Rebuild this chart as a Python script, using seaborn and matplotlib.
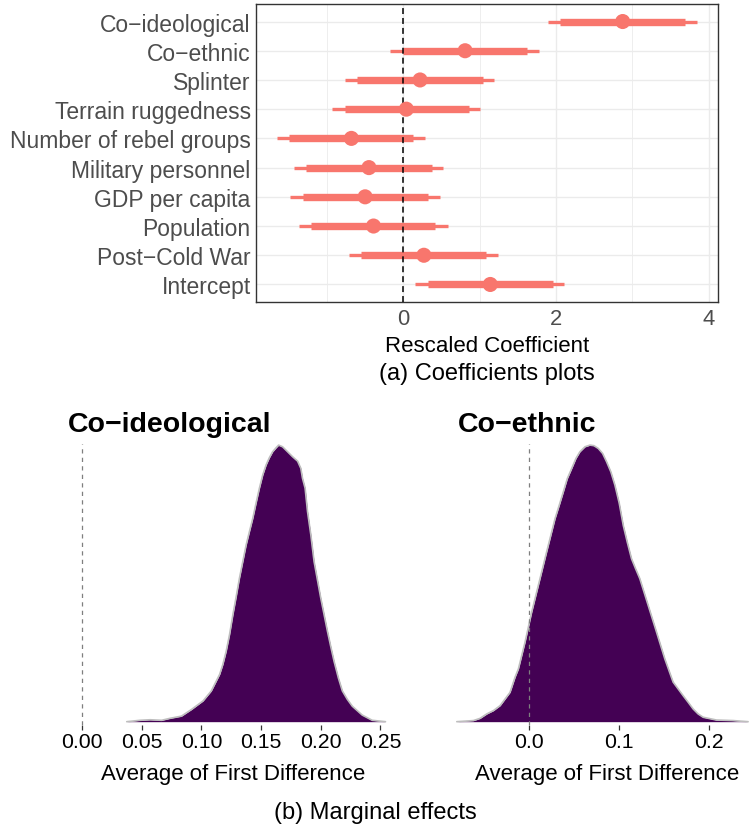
import numpy as np
import pandas as pd
import matplotlib
matplotlib.use("Agg")
import matplotlib.pyplot as plt
import seaborn as sns

# ---------------- data ----------------
categories = ["Co−ideological", "Co−ethnic", "Splinter", "Terrain ruggedness",
              "Number of rebel groups", "Military personnel", "GDP per capita",
              "Population", "Post−Cold War", "Intercept"]
estimate = [2.875, 0.81, 0.22, 0.04, -0.68, -0.45, -0.50, -0.39, 0.27, 1.14]
inner_lo = [2.05, -0.01, -0.61, -0.77, -1.50, -1.27, -1.32, -1.21, -0.55, 0.32]
inner_hi = [3.69, 1.62, 1.04, 0.86, 0.13, 0.37, 0.32, 0.42, 1.08, 1.96]
outer_lo = [1.89, -0.17, -0.76, -0.93, -1.66, -1.43, -1.48, -1.37, -0.71, 0.16]
outer_hi = [3.85, 1.78, 1.19, 1.01, 0.29, 0.52, 0.48, 0.58, 1.24, 2.11]
coef_ticks = [0, 2, 4]
coef_ticklabels = ["0", "2", "4"]

# density of first differences (relative height)
ideo_x = [0.0375, 0.0486, 0.057, 0.0667, 0.0736, 0.0833, 0.0917, 0.1014, 0.1083,
          0.1153, 0.118, 0.1208, 0.1236, 0.1264, 0.1292, 0.1319, 0.1347, 0.1375,
          0.1403, 0.1431, 0.1458, 0.1486, 0.1514, 0.1542, 0.1569, 0.1597, 0.1625,
          0.1647, 0.168, 0.1736, 0.1764, 0.1806, 0.1833, 0.1847, 0.1869, 0.1889,
          0.1917, 0.1944, 0.1972, 0.20, 0.2028, 0.2056, 0.2083, 0.2111, 0.2147,
          0.2181, 0.2222, 0.2264, 0.2347, 0.2431, 0.2542]
ideo_h = [0.0, 0.005, 0.007, 0.005, 0.012, 0.020, 0.044, 0.075, 0.111,
          0.171, 0.207, 0.255, 0.315, 0.387, 0.453, 0.519, 0.579, 0.639,
          0.688, 0.736, 0.790, 0.844, 0.892, 0.928, 0.954, 0.976, 0.990,
          1.0, 0.994, 0.970, 0.958, 0.942, 0.916, 0.880, 0.844, 0.760,
          0.675, 0.579, 0.513, 0.447, 0.387, 0.327, 0.273, 0.219, 0.159,
          0.111, 0.081, 0.056, 0.024, 0.005, 0.0]
eth_x = [-0.0797, -0.0613, -0.0539, -0.0465, -0.0391, -0.0317, -0.0262, -0.0207,
         -0.0151, -0.0114, -0.0041, 0.0033, 0.0107, 0.0199, 0.0292, 0.0339,
         0.0384, 0.0428, 0.0476, 0.0524, 0.0568, 0.0624, 0.0679, 0.0723, 0.0771,
         0.0819, 0.0863, 0.0911, 0.0956, 0.1004, 0.1048, 0.1092, 0.114, 0.1185,
         0.1232, 0.1325, 0.1417, 0.1509, 0.1601, 0.1712, 0.1768, 0.1823, 0.1878,
         0.1934, 0.2081, 0.2266, 0.2432]
eth_h = [0.0, 0.004, 0.012, 0.028, 0.040, 0.058, 0.082, 0.106,
         0.161, 0.191, 0.287, 0.396, 0.493, 0.614, 0.734, 0.783,
         0.831, 0.879, 0.915, 0.952, 0.976, 0.994, 1.0, 0.998, 0.988,
         0.970, 0.940, 0.903, 0.855, 0.789, 0.710, 0.650, 0.589, 0.553,
         0.517, 0.420, 0.324, 0.227, 0.143, 0.094, 0.070, 0.046, 0.028,
         0.016, 0.006, 0.004, 0.0]
ideo_ticks = [0.00, 0.05, 0.10, 0.15, 0.20, 0.25]
ideo_ticklabels = ["0.00", "0.05", "0.10", "0.15", "0.20", "0.25"]
eth_ticks = [0.0, 0.1, 0.2]
eth_ticklabels = ["0.0", "0.1", "0.2"]

# ---------------- style ----------------
sns.set_style("white")
plt.rcParams["font.family"] = ["Liberation Sans", "DejaVu Sans"]
plt.rcParams["text.color"] = "black"
plt.rcParams["axes.labelcolor"] = "black"

W, H = 749, 829
fig = plt.figure(figsize=(W / 100, H / 100), dpi=100)


def px_axes(l, t, r, b):
    return fig.add_axes([l / W, 1 - b / H, (r - l) / W, (b - t) / H])


salmon = "#F8766D"
grid_c = "#EBEBEB"

# ---------------- (a) coefficient plot ----------------
ax1 = px_axes(256, 5, 718, 303)
df = pd.DataFrame({"term": categories, "est": estimate, "ilo": inner_lo,
                   "ihi": inner_hi, "olo": outer_lo, "ohi": outer_hi})
df["pos"] = np.arange(len(df))

ax1.hlines(df["pos"], df["olo"], df["ohi"], color=salmon, lw=2.4,
           capstyle="butt", zorder=3)
ax1.hlines(df["pos"], df["ilo"], df["ihi"], color=salmon, lw=5.3,
           capstyle="butt", zorder=3)
sns.scatterplot(data=df, x="est", y="pos", ax=ax1, s=118, color=salmon,
                edgecolor="none", linewidth=0, zorder=4, legend=False)
ax1.axvline(0, color="black", lw=1.1, ls=(0, (3.9, 2.6)), zorder=3.5)

ax1.set_xlim(-1.93, 4.124)
ax1.set_ylim(len(df) - 1 + 0.6, -0.6)
ax1.set_yticks(df["pos"])
ax1.set_yticklabels(categories)
ax1.set_xticks(coef_ticks)
ax1.set_xticklabels(coef_ticklabels)
ax1.set_xticks([-1, 1, 3], minor=True)
ax1.grid(which="major", color=grid_c, lw=1.0, zorder=0)
ax1.grid(which="minor", axis="x", color=grid_c, lw=0.6, zorder=0)
ax1.set_axisbelow(True)
for s in ax1.spines.values():
    s.set_color("#333333")
    s.set_linewidth(1.0)
ax1.tick_params(which="major", length=2.6, width=0.8, color="#333333",
                labelcolor="#4D4D4D", labelsize=15.8, pad=1.5)
ax1.tick_params(axis="y", labelsize=16.5, pad=1.2)
ax1.tick_params(axis="x", pad=2.0)
ax1.tick_params(which="minor", length=0)
ax1.set_ylabel("")
ax1.set_xlabel("Rescaled Coefficient", fontsize=16, color="black")
ax1.xaxis.set_label_coords(0.5, -(346 - 303) / 298)
ax1.xaxis.label.set_va("center")

fig.text(487 / W, 1 - 374 / H, "(a) Coefficients plots", fontsize=17,
         ha="center", va="center", color="black")

# ---------------- (b) marginal effects ----------------
fill_c = "#440154"
line_c = "#BEBEBE"


def dens_panel(ax, xs, hs, xlim, ticks, ticklabels, title, title_x, xlab_x):
    ax.fill_between(xs, 0, hs, color=fill_c, lw=0, zorder=2)
    sns.lineplot(x=xs, y=hs, ax=ax, color=line_c, lw=1.2, sort=False,
                 zorder=3, estimator=None)
    ax.axvline(0, color="#7F7F7F", lw=0.9, ls=(0, (3.4, 3.4)), zorder=4)
    ax.set_xlim(*xlim)
    ax.set_ylim(-0.012, 1.004)
    ax.set_xticks(ticks)
    ax.set_xticklabels(ticklabels)
    ax.set_yticks([])
    for s in ax.spines.values():
        s.set_visible(False)
    ax.grid(False)
    ax.tick_params(axis="x", length=3.6, width=0.9, color="#333333",
                   labelcolor="black", labelsize=15.3, pad=1.5, bottom=True)
    ax.set_ylabel("")
    ax.set_xlabel("Average of First Difference", fontsize=16, color="black")
    ax.xaxis.set_label_coords(xlab_x, -(775 - 726) / 281)
    ax.xaxis.label.set_va("center")
    fig.text(title_x / W, 1 - 431.7 / H, title, fontsize=20.5,
             fontweight="bold", ha="left", va="baseline", color="black")


ax2 = px_axes(67, 445, 401, 726)
dens_panel(ax2, ideo_x, ideo_h, (-0.01256, 0.2672), ideo_ticks,
           ideo_ticklabels, "Co−ideological", 68, 0.497)

ax3 = px_axes(456, 445, 749, 726)
dens_panel(ax3, eth_x, eth_h, (-0.0806, 0.2442), eth_ticks,
           eth_ticklabels, "Co−ethnic", 458, 0.517)

fig.text(375 / W, 1 - 813 / H, "(b) Marginal effects", fontsize=17,
         ha="center", va="center", color="black")

fig.savefig("out.png", dpi=100)
